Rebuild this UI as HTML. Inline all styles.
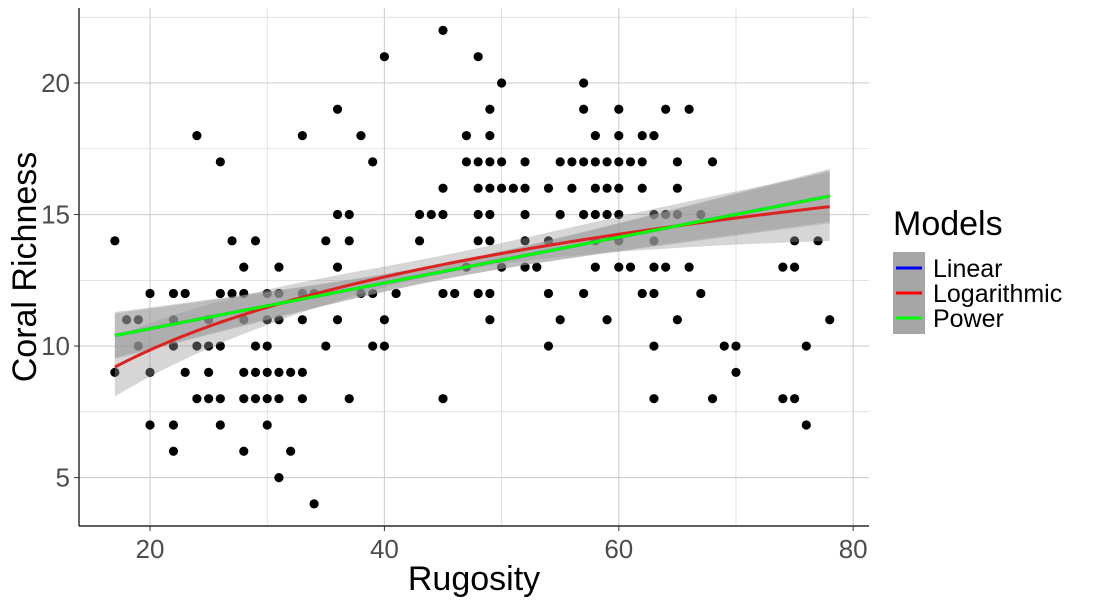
<!DOCTYPE html>
<html><head><meta charset="utf-8"><style>
body{margin:0;background:#fff;}
svg text{font-family:"Liberation Sans",sans-serif;}
</style></head><body>
<svg id="chart" width="1100" height="600">
<g id="grid"></g><g id="points"></g><g id="ribbons"></g><g id="lines"></g><g id="axes"></g>
<g id="legend">
<text x="893" y="235" font-size="34" fill="#000">Models</text>
<rect x="893" y="252" width="32" height="82" fill="#a6a6a6"/>
<line x1="896" y1="268" x2="922" y2="268" stroke="#0000ff" stroke-width="3"/>
<line x1="896" y1="293" x2="922" y2="293" stroke="#ff0000" stroke-width="3"/>
<line x1="896" y1="318" x2="922" y2="318" stroke="#00ff00" stroke-width="3"/>
<text x="933" y="277" font-size="25">Linear</text>
<text x="933" y="302" font-size="25">Logarithmic</text>
<text x="933" y="327" font-size="25">Power</text>
</g>
</svg>
<script>
const rugosity=[17,17,18,19,19,20,20,20,22,22,22,22,22,23,23,24,24,24,25,25,25,25,26,26,26,26,26,27,27,28,28,28,28,28,28,29,29,29,29,30,30,30,30,30,30,31,31,31,31,31,31,32,32,33,33,33,33,33,34,34,35,35,36,36,36,36,37,37,37,38,38,39,39,39,40,40,40,41,43,43,44,45,45,45,45,45,46,47,47,47,48,48,48,48,48,48,49,49,49,49,49,49,49,49,50,50,50,50,51,52,52,52,52,52,53,54,54,54,54,55,55,55,56,56,57,57,57,57,57,58,58,58,58,58,58,59,59,59,59,60,60,60,60,60,60,60,61,61,62,62,62,62,63,63,63,63,63,63,63,64,64,64,65,65,65,65,66,66,67,67,68,68,69,70,70,74,74,75,75,75,76,76,77,78];
const richness=[14,9,11,11,10,12,9,7,12,11,10,7,6,12,9,18,10,8,11,10,9,8,17,12,10,8,7,14,12,13,12,11,9,8,6,14,10,9,8,12,11,10,9,8,7,13,12,11,9,8,5,9,6,18,12,11,9,8,12,4,14,10,19,15,13,11,15,14,8,18,12,17,12,10,21,11,10,12,14,15,15,22,16,15,12,8,12,18,17,13,21,17,16,15,14,12,19,18,17,16,15,14,12,11,20,17,16,13,16,17,16,15,14,13,13,16,14,12,10,17,15,11,17,16,20,19,17,15,12,18,17,16,15,14,13,17,16,15,11,19,18,17,16,15,14,13,17,13,18,17,16,12,18,15,14,13,12,10,8,19,15,13,17,16,15,11,19,13,15,12,17,8,10,10,9,13,8,14,13,8,10,7,14,11];
const xTicks=[20,40,60,80];
const yTicks=[5,10,15,20];
const linFit=[10.4,15.7];
const logFit=[9.2,15.3];
const powFit=[10.4,15.7];
const fitRange=[17,78];

const NS='http://www.w3.org/2000/svg';
const L=79,R=869,T=8,B=526;
const X0=13.94,X1=81.35,Y0=3.16,Y1=22.85;
const sx=v=>L+(v-X0)/(X1-X0)*(R-L);
const sy=v=>B-(v-Y0)/(Y1-Y0)*(B-T);
function mk(tag,attrs,parent){const e=document.createElementNS(NS,tag);for(const k in attrs)e.setAttribute(k,attrs[k]);document.getElementById(parent).appendChild(e);return e;}

for(let v=20;v<=X1;v+=10){const major=v%20===0;
 const g=mk('line',{x1:sx(v),x2:sx(v),y1:T,y2:B,stroke:'#d0d0d0','stroke-width':major?1.1:0.6},'grid');
 }
for(let v=5;v<=Y1;v+=2.5){const major=v%5===0;
 const g=mk('line',{x1:L,x2:R,y1:sy(v),y2:sy(v),stroke:'#d0d0d0','stroke-width':major?1.1:0.6},'grid');
 }

const [a,b]=fitRange,mid=45;
const linF=x=>linFit[0]+(linFit[1]-linFit[0])*(x-a)/(b-a);
const powF=x=>powFit[0]+(powFit[1]-powFit[0])*(x-a)/(b-a);
const lb=(logFit[1]-logFit[0])/Math.log(b/a);
const logF=x=>logFit[0]+lb*Math.log(x/a);

rugosity.forEach((x,i)=>{const c=mk('circle',{cx:sx(x),cy:sy(richness[i]),r:4.6,fill:'#000'},'points');
 });

function band(f,h0,k,name){let up=[],dn=[];
 for(let x=a;x<=b+0.001;x+=0.5){const h=Math.sqrt(h0*h0+k*k*(x-mid)*(x-mid));up.push(sx(x)+','+sy(f(x)+h));dn.unshift(sx(x)+','+sy(f(x)-h));}
 const p=mk('polygon',{points:up.concat(dn).join(' '),fill:'#999999','fill-opacity':0.4},'ribbons');
 }
band(linF,0.3,0.03,'linear-ci-band');
band(logF,0.35,0.038,'log-ci-band');
band(powF,0.3,0.028,'power-ci-band');

function line(f,col,name){let p=[];for(let x=a;x<=b+0.001;x+=0.5)p.push(sx(x)+','+sy(f(x)));
 const l=mk('polyline',{points:p.join(' '),fill:'none',stroke:col,'stroke-width':3},'lines');
 }
line(linF,'#0000ff','linear-fit-line');
line(logF,'#dd2222','log-fit-line');
line(powF,'#00ff00','power-fit-line');

let e=mk('line',{x1:L,x2:L,y1:T,y2:B,stroke:'#000','stroke-width':1.2},'axes');
e=mk('line',{x1:L,x2:R,y1:B,y2:B,stroke:'#000','stroke-width':1.2},'axes');
xTicks.forEach(v=>{const t=mk('line',{x1:sx(v),x2:sx(v),y1:B,y2:B+5,stroke:'#333'},'axes');
 const s=mk('text',{x:sx(v),y:B+32,'text-anchor':'middle','font-size':26,fill:'#4d4d4d'},'axes');s.textContent=v;});
yTicks.forEach(v=>{const t=mk('line',{x1:L-5,x2:L,y1:sy(v),y2:sy(v),stroke:'#333'},'axes');
 const s=mk('text',{x:L-9,y:sy(v)+9,'text-anchor':'end','font-size':26,fill:'#4d4d4d'},'axes');s.textContent=v;});
e=mk('text',{x:(L+R)/2,y:590,'text-anchor':'middle','font-size':34},'axes');e.textContent='Rugosity';
e=mk('text',{x:0,y:0,'text-anchor':'middle','font-size':34,transform:'translate(36,'+((T+B)/2)+') rotate(-90)'},'axes');e.textContent='Coral Richness';
</script>
</body></html>
